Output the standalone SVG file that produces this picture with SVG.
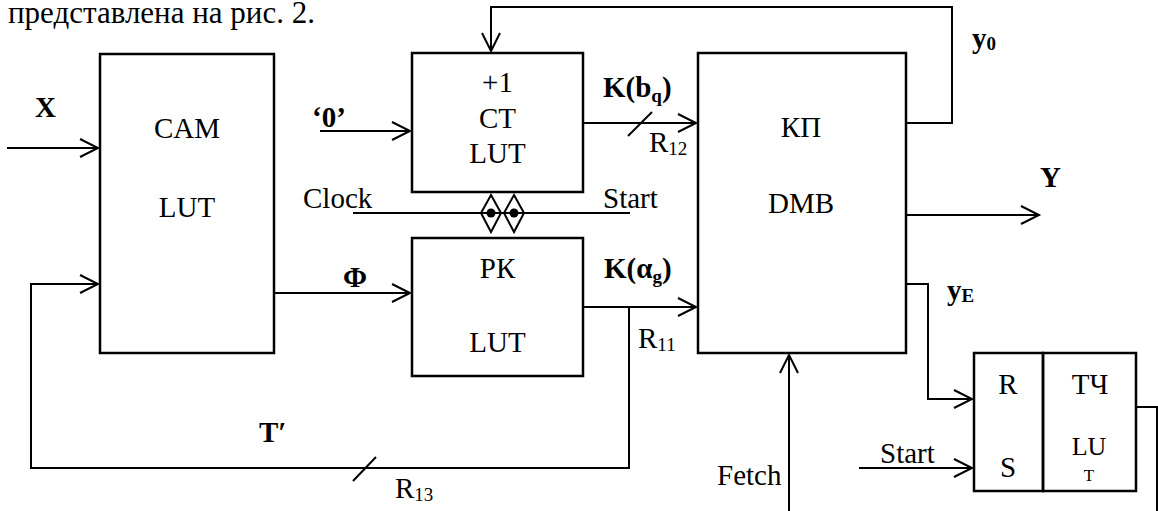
<svg xmlns="http://www.w3.org/2000/svg" width="1158" height="511" viewBox="0 0 1158 511">
<style>
text{font-family:"Liberation Serif","Times New Roman",serif;font-size:29px;fill:#000}
.b{font-weight:bold}
.m{text-anchor:middle}
.box{fill:none;stroke:#000;stroke-width:2.5}
.ln{fill:none;stroke:#000;stroke-width:2}
.ar{marker-end:url(#arr)}
.sub{font-size:19px}
</style>
<defs>
<marker id="arr" markerUnits="userSpaceOnUse" markerWidth="24" markerHeight="24" viewBox="-20 -12 24 24" refX="0" refY="0" orient="auto">
<path d="M-18,-9 L0,0 L-18,9" fill="none" stroke="#000" stroke-width="2"/>
</marker>
</defs>
<text x="8" y="23" style="font-size:31px">представлена на рис. 2.</text>
<g id="cam">
<rect class="box" x="100" y="54" width="174" height="299"/>
<text class="m" x="187" y="138">CAM</text>
<text class="m" x="187" y="217">LUT</text>
</g>
<g id="ct">
<rect class="box" x="412" y="53" width="171" height="139"/>
<text class="m" x="497.5" y="92">+1</text>
<text class="m" x="497.5" y="128">СТ</text>
<text class="m" x="497.5" y="163">LUT</text>
</g>
<g id="rk">
<rect class="box" x="412" y="238" width="171" height="138"/>
<text class="m" x="497.5" y="278">РК</text>
<text class="m" x="497.5" y="352">LUT</text>
</g>
<g id="kp">
<rect class="box" x="698" y="53" width="208" height="300"/>
<text class="m" x="801" y="137">КП</text>
<text class="m" x="801" y="213">DMB</text>
</g>
<g id="tch">
<rect class="box" x="974" y="353" width="69" height="138"/>
<rect class="box" x="1043" y="353" width="93" height="138"/>
<text class="m" x="1008" y="394">R</text>
<text class="m" x="1008" y="477">S</text>
<text class="m" x="1090" y="394">ТЧ</text>
<text class="m" x="1089" y="455" style="font-size:26px">LU</text>
<text class="m" x="1089" y="481" style="font-size:17px">T</text>
</g>
<g id="connectors">
<line class="ln ar" x1="7" y1="148" x2="98" y2="148"/>
<line class="ln ar" x1="320" y1="131" x2="410" y2="131"/>
<line class="ln ar" x1="274" y1="293" x2="410" y2="293"/>
<polyline class="ln ar" points="906,123 952,123 952,7 491,7 491,51"/>
<line class="ln ar" x1="583" y1="123" x2="696" y2="123"/>
<line class="ln" x1="628" y1="136" x2="652" y2="112"/>
<line class="ln ar" x1="583" y1="307" x2="696" y2="307"/>
<polyline class="ln ar" points="629,307 629,468 31,468 31,284 98,284"/>
<line class="ln" x1="353" y1="481" x2="376" y2="457"/>
<line class="ln" x1="353" y1="213" x2="630" y2="213"/>
<path class="ln" d="M491,195 L501,213 L491,232 L481,213 Z"/>
<path class="ln" d="M514,195 L524,213 L514,232 L504,213 Z"/>
<circle cx="491" cy="213" r="4.5" fill="#000"/>
<circle cx="514" cy="213" r="4.5" fill="#000"/>
<line class="ln ar" x1="906" y1="215" x2="1039" y2="215"/>
<polyline class="ln ar" points="906,284 928,284 928,399 972,399"/>
<line class="ln ar" x1="859" y1="468" x2="972" y2="468"/>
<line class="ln ar" x1="789" y1="511" x2="789" y2="355"/>
<polyline class="ln" points="1136,407 1157,407 1157,511"/>
</g>
<g id="labels">
<text class="b" x="35" y="117">X</text>
<text class="b" x="312" y="127">‘0’</text>
<text class="b" x="343" y="287">Φ</text>
<text class="b" x="603" y="97">K(b<tspan class="sub" dy="5">q</tspan><tspan dy="-5">)</tspan></text>
<text class="b" x="604" y="278">K(α<tspan class="sub" dy="5">g</tspan><tspan dy="-5">)</tspan></text>
<text class="b" x="259" y="442">T′</text>
<text class="b" x="972" y="48">y<tspan class="sub" dy="2">0</tspan></text>
<text class="b" x="1040" y="187">Y</text>
<text class="b" x="947" y="300">y<tspan class="sub" dy="2">E</tspan></text>
<text x="649" y="152">R<tspan class="sub" dy="3">12</tspan></text>
<text x="638" y="348">R<tspan class="sub" dy="3">11</tspan></text>
<text x="395" y="498">R<tspan class="sub" dy="3">13</tspan></text>
<text x="303" y="208">Clock</text>
<text x="603" y="208">Start</text>
<text x="880" y="463">Start</text>
<text x="717" y="485">Fetch</text>
</g>
</svg>
